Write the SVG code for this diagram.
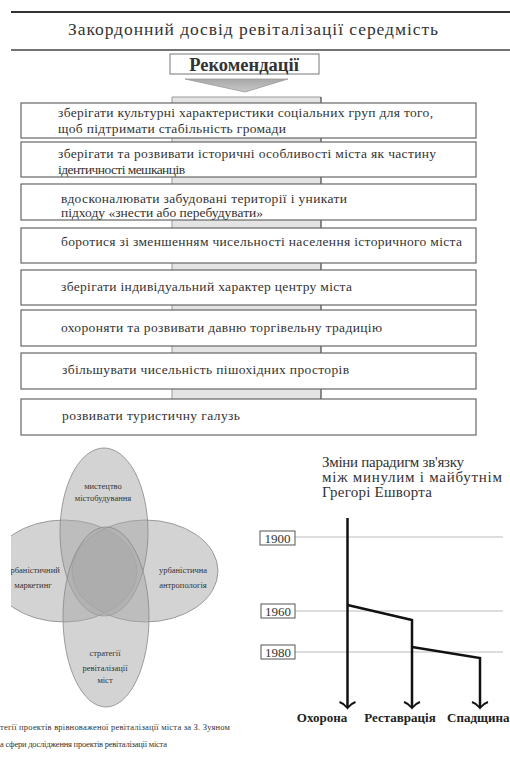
<svg xmlns="http://www.w3.org/2000/svg" width="510" height="778" viewBox="0 0 510 778">
<style>
.t{font-family:"Liberation Serif","Times New Roman",serif;fill:#333}
.box{fill:#fff;stroke:#666;stroke-width:1.2}
.bt{font-family:"Liberation Serif","Times New Roman",serif;font-size:13.5px;fill:#333}
.bar{fill:#e4e4e4;stroke:none}
.ell{fill:#a8a8a8;fill-opacity:0.5;stroke:#888;stroke-width:0.8}
.vt{font-family:"Liberation Serif","Times New Roman",serif;font-size:8.5px;fill:#333;text-anchor:middle}
.grid{stroke:#bbb;stroke-width:1}
.yr{fill:#fff;stroke:#555;stroke-width:1}
.yt{font-family:"Liberation Serif","Times New Roman",serif;font-size:13px;fill:#333}
.thick{stroke:#111;stroke-width:2.5;fill:none}
.ah{stroke:#111;stroke-width:2;fill:none}
.lab{font-family:"Liberation Serif","Times New Roman",serif;font-size:13px;font-weight:bold;fill:#222}
</style>
<defs>
<clipPath id="vclip"><rect x="11" y="430" width="260" height="300"/></clipPath>
<linearGradient id="tri" x1="0" y1="0" x2="0" y2="1"><stop offset="0" stop-color="#a8a8a8"/><stop offset="1" stop-color="#c8c8c8"/></linearGradient>
</defs>
<rect width="510" height="778" fill="#fff"/>

<g id="header">
<line x1="11" y1="12" x2="510" y2="12" stroke="#333" stroke-width="2"/>
<line x1="11" y1="50" x2="510" y2="50" stroke="#444" stroke-width="1.5"/>
<text class="t" x="253" y="35" font-size="17.5" text-anchor="middle" textLength="370">Закордонний досвід ревіталізації середмість</text>
</g>

<g id="connectors">
<polygon points="185,79 288,79 245,92" fill="url(#tri)" stroke="#999" stroke-width="0.8"/>
<rect class="bar" x="172" y="97" width="149" height="8"/>
<rect class="bar" x="172" y="137" width="149" height="7"/>
<rect class="bar" x="172" y="176" width="149" height="10"/>
<rect class="bar" x="172" y="219" width="149" height="10"/>
<rect class="bar" x="172" y="262" width="149" height="10"/>
<rect class="bar" x="172" y="304" width="149" height="8"/>
<rect class="bar" x="172" y="345" width="149" height="10"/>
<rect class="bar" x="172" y="388" width="149" height="13"/>
<g stroke="#999" stroke-width="1">
<line x1="172" y1="97" x2="321" y2="97"/>
<line x1="172" y1="97" x2="172" y2="103"/>
<line x1="172" y1="138" x2="172" y2="142"/>
<line x1="172" y1="177" x2="172" y2="184"/>
<line x1="172" y1="220" x2="172" y2="228"/>
<line x1="172" y1="263" x2="172" y2="270"/>
<line x1="172" y1="305" x2="172" y2="310"/>
<line x1="172" y1="346" x2="172" y2="353"/>
<line x1="172" y1="389" x2="172" y2="399"/>
</g>
<g stroke="#444" stroke-width="1.2">
<line x1="321" y1="97" x2="321" y2="103"/>
<line x1="321" y1="138" x2="321" y2="142"/>
<line x1="321" y1="177" x2="321" y2="184"/>
<line x1="321" y1="220" x2="321" y2="228"/>
<line x1="321" y1="263" x2="321" y2="270"/>
<line x1="321" y1="305" x2="321" y2="310"/>
<line x1="321" y1="346" x2="321" y2="353"/>
<line x1="321" y1="389" x2="321" y2="399"/>
</g>
</g>

<g id="recommendations">
<rect x="170" y="54" width="149" height="20" fill="#fff" stroke="#777" stroke-width="1"/>
<text class="t" x="244" y="70.5" font-size="18.5" font-weight="bold" text-anchor="middle" fill="#222">Рекомендації</text>
</g>

<g id="r1"><rect class="box" x="21" y="103" width="455" height="35"/>
<text class="bt" x="58" y="117" textLength="375">зберігати культурні характеристики соціальних груп для того,</text>
<text class="bt" x="58" y="133" textLength="228">щоб підтримати стабільність громади</text></g>
<g id="r2"><rect class="box" x="21" y="142" width="455" height="35"/>
<text class="bt" x="58" y="158" textLength="378">зберігати та розвивати історичні особливості міста як частину</text>
<text class="bt" x="58" y="174" textLength="127">ідентичності мешканців</text></g>
<g id="r3"><rect class="box" x="21" y="184" width="455" height="36"/>
<text class="bt" x="61" y="203" textLength="286">вдосконалювати забудовані території і уникати</text>
<text class="bt" x="61" y="217" textLength="202">підходу «знести або перебудувати»</text></g>
<g id="r4"><rect class="box" x="21" y="228" width="455" height="35"/>
<text class="bt" x="61" y="246" textLength="401">боротися зі зменшенням чисельності населення історичного міста</text></g>
<g id="r5"><rect class="box" x="21" y="270" width="455" height="35"/>
<text class="bt" x="61" y="291" textLength="291">зберігати індивідуальний характер центру міста</text></g>
<g id="r6"><rect class="box" x="21" y="310" width="455" height="36"/>
<text class="bt" x="61" y="332" textLength="321">охороняти та розвивати давню торгівельну традицію</text></g>
<g id="r7"><rect class="box" x="21" y="353" width="455" height="36"/>
<text class="bt" x="62" y="374" textLength="287">збільшувати чисельність пішохідних просторів</text></g>
<g id="r8"><rect class="box" x="21" y="399" width="455" height="36"/>
<text class="bt" x="62" y="420" textLength="178">розвивати туристичну галузь</text></g>

<g id="venn" clip-path="url(#vclip)">
<ellipse class="ell" cx="64" cy="571" rx="73" ry="51"/>
<ellipse class="ell" cx="145" cy="571" rx="73" ry="51"/>
<ellipse class="ell" cx="104" cy="532" rx="44" ry="84"/>
<ellipse class="ell" cx="106" cy="617" rx="43" ry="90"/>
<text class="vt" x="103" y="489">мистецтво</text>
<text class="vt" x="103" y="501">містобудування</text>
<text class="vt" x="33" y="573">урбаністичний</text>
<text class="vt" x="33" y="588">маркетинг</text>
<text class="vt" x="183" y="573">урбаністична</text>
<text class="vt" x="183" y="588">антропологія</text>
<text class="vt" x="105" y="656">стратегії</text>
<text class="vt" x="105" y="671">ревіталізації</text>
<text class="vt" x="105" y="683">міст</text>
</g>

<g id="captions">
<text class="t" x="0" y="730" font-size="8.5" fill="#222" textLength="230">тегії проектів врівноваженої ревіталізації міста за З. Зуяном</text>
<text class="t" x="0" y="747" font-size="8.5" fill="#222" textLength="167">а сфери дослідження проектів ревіталізації міста</text>
</g>

<g id="timeline-title">
<text class="t" x="322" y="467" font-size="15" textLength="142">Зміни парадигм зв'язку</text>
<text class="t" x="322" y="482" font-size="15" textLength="180">між минулим і майбутнім</text>
<text class="t" x="322" y="497" font-size="15" textLength="110">Грегорі Ешворта</text>
</g>

<g id="grid">
<line class="grid" x1="295" y1="537" x2="503" y2="537"/>
<line class="grid" x1="295" y1="611" x2="503" y2="611"/>
<line class="grid" x1="295" y1="652" x2="503" y2="652"/>
</g>
<g id="y1900"><rect class="yr" x="260" y="531" width="35" height="14"/><text class="yt" x="277.5" y="542.5" text-anchor="middle">1900</text></g>
<g id="y1960"><rect class="yr" x="261" y="604" width="34" height="14"/><text class="yt" x="278" y="615.5" text-anchor="middle">1960</text></g>
<g id="y1980"><rect class="yr" x="261" y="645" width="34" height="14"/><text class="yt" x="278" y="656.5" text-anchor="middle">1980</text></g>

<g id="timeline-connectors">
<path class="thick" d="M347.5,518 V707"/>
<path class="thick" d="M347.5,605 L412,620 V707"/>
<path class="thick" d="M412,647 L480,658 V707"/>
<path class="ah" d="M339.5,702 Q344,703.5 347.5,708 Q351,703.5 355.5,702"/>
<path class="ah" d="M404,702 Q408.5,703.5 412,708 Q415.5,703.5 420,702"/>
<path class="ah" d="M472,702 Q476.5,703.5 480,708 Q483.5,703.5 488,702"/>
</g>
<g id="labels">
<text class="lab" x="322" y="722" text-anchor="middle">Охорона</text>
<text class="lab" x="400" y="722" text-anchor="middle">Реставрація</text>
<text class="lab" x="447" y="722">Спадщина</text>
</g>
</svg>
